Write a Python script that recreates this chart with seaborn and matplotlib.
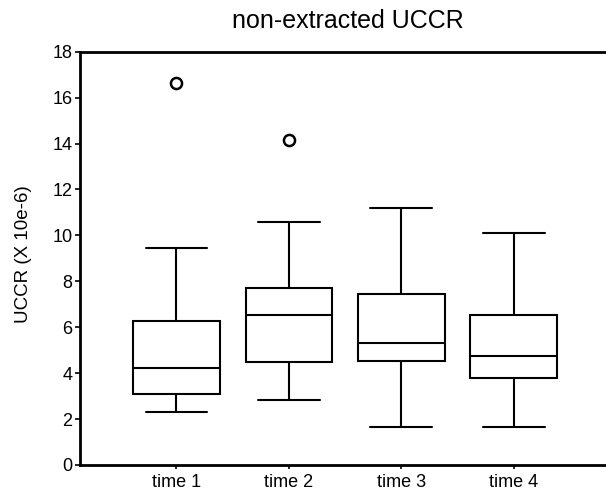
import matplotlib
matplotlib.use("Agg")
import matplotlib.pyplot as plt
import seaborn as sns
import pandas as pd

# Values (units: X 10e-6)
times = ["time 1", "time 2", "time 3", "time 4"]
whisker_low = [2.30, 2.83, 1.64, 1.67]
q1 = [3.10, 4.48, 4.52, 3.79]
median = [4.24, 6.55, 5.31, 4.76]
q3 = [6.28, 7.69, 7.45, 6.55]
whisker_high = [9.45, 10.58, 11.19, 10.10]
outliers = [[16.64], [14.17], [], []]
y_ticks = [0, 2, 4, 6, 8, 10, 12, 14, 16, 18]

# Build a long table whose quartiles / whiskers reproduce the summary above
rows = []
for t, lo, a, m, b, hi, out in zip(times, whisker_low, q1, median, q3, whisker_high, outliers):
    vals = [lo, a, a, m, m, b, b, hi] + (out if out else [hi])
    for v in vals:
        rows.append({"time": t, "value": v})
df = pd.DataFrame(rows)

sns.set_theme(style="white")
plt.rcParams["font.family"] = ["Liberation Sans", "DejaVu Sans"]

fig = plt.figure(figsize=(6.06, 4.93), dpi=100)
ax = fig.add_axes([0.1312, 0.0568, 0.8688, 0.8383])

sns.boxplot(
    data=df, x="time", y="value", order=times, ax=ax,
    color="white", linecolor="black", linewidth=1.5, width=0.77,
    fliersize=8, whis=1.5, capwidths=0.55,
    flierprops=dict(marker="o", markerfacecolor="white",
                    markeredgecolor="black", markeredgewidth=1.8),
)

ax.set_xlim(-0.862, 3.82)
ax.set_ylim(0, 18)
ax.set_yticks(y_ticks)
ax.set_xlabel("")
ax.set_ylabel("UCCR (X 10e-6)", fontsize=13.5, color="black")
ax.yaxis.set_label_coords(-0.090, 0.51)

for side in ["left", "bottom", "top"]:
    ax.spines[side].set_visible(True)
    ax.spines[side].set_color("black")
    ax.spines[side].set_linewidth(2.0)
ax.spines["right"].set_visible(False)

ax.tick_params(axis="both", which="major", direction="out", colors="black",
               labelsize=13, width=1.2, bottom=True, left=True, top=False, right=False)
ax.tick_params(axis="y", length=3.5, pad=1.5)
ax.tick_params(axis="x", length=3, pad=3.5)

fig.text(0.5734, 1 - 28.3 / 493, "non-extracted UCCR", ha="center", va="baseline",
         fontsize=18, color="black")

fig.savefig("out.png", dpi=100)
